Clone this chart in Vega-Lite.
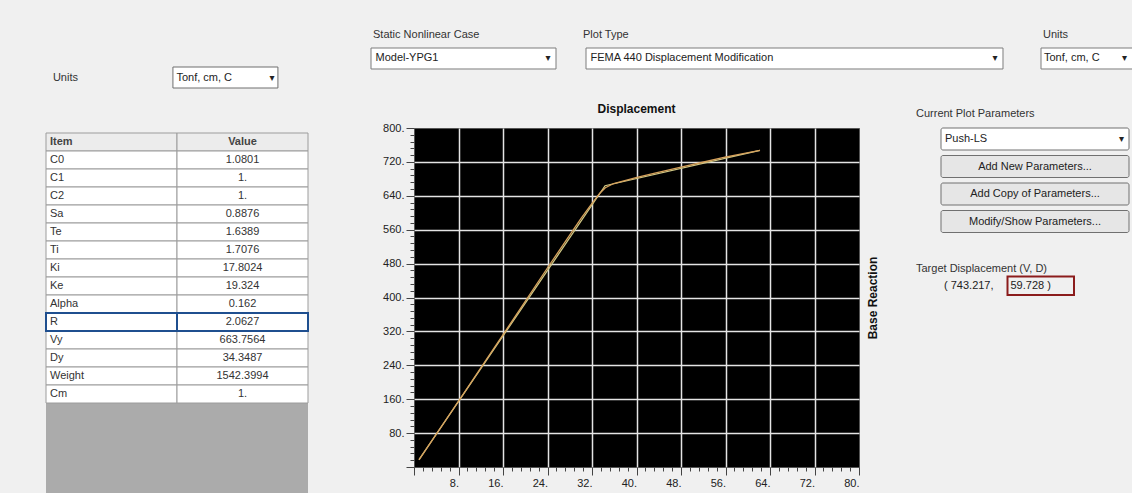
{
 "$schema": "https://vega.github.io/schema/vega-lite/v6.json",
 "background": "#f0f0f0",
 "autosize": {"type": "pad"},
 "padding": {"left": 45, "top": 28, "right": 0, "bottom": 0},
 "spacing": 13,
 "config": {
  "view": {"stroke": null},
  "font": "Liberation Sans",
  "text": {"fontSize": 11, "color": "#222222"},
  "title": {"fontSize": 11, "fontWeight": "normal", "color": "#333333", "anchor": "start", "frame": "group"}
 },
 "vconcat": [
  {
   "hconcat": [
    {
     "width": 295, "height": 40,
     "data": {"values": [{"w": "dd", "label": "Tonf, cm, C", "caption": "Units"}]},
     "encoding": {
      "y": {"field": "w", "type": "nominal", "axis": null, "scale": {"type": "band", "paddingInner": 0, "paddingOuter": 0.4524, "align": 1}},
      "x": {"field": "w", "type": "nominal", "axis": null, "scale": {"type": "band", "paddingInner": 0, "paddingOuter": 0.9048, "align": 0.668}}
     },
     "layer": [
      {"mark": {"type": "rect", "fill": "#ffffff", "stroke": "#6f6f6f"}},
      {"mark": {"type": "text", "align": "left", "dx": -49}, "encoding": {"text": {"field": "label"}}},
      {"mark": {"type": "text", "align": "right", "dx": 49, "font": "DejaVu Sans", "fontSize": 10, "text": "▾"}},
      {"mark": {"type": "text", "align": "center", "dx": -160, "color": "#333333"}, "encoding": {"text": {"field": "caption"}}}
     ]
    },
    {
     "width": 185, "height": 40,
     "title": {"text": "Static Nonlinear Case", "offset": 8, "dx": 2},
     "data": {"values": [{"w": "dd", "label": "Model-YPG1"}]},
     "encoding": {
      "y": {"field": "w", "type": "nominal", "axis": null, "scale": {"type": "band", "paddingInner": 0, "paddingOuter": 0.4524, "align": 0}}
     },
     "layer": [
      {"mark": {"type": "rect", "fill": "#ffffff", "stroke": "#7d7d7d"}},
      {"mark": {"type": "text", "align": "left", "dx": -88}, "encoding": {"text": {"field": "label"}}},
      {"mark": {"type": "text", "align": "right", "dx": 87, "font": "DejaVu Sans", "fontSize": 10, "text": "▾"}}
     ]
    },
    {
     "width": 425, "height": 40,
     "title": {"text": "Plot Type", "offset": 8, "dx": -3},
     "data": {"values": [{"w": "dd", "label": "FEMA 440 Displacement Modification"}]},
     "encoding": {
      "y": {"field": "w", "type": "nominal", "axis": null, "scale": {"type": "band", "paddingInner": 0, "paddingOuter": 0.4524, "align": 0}},
      "x": {"field": "w", "type": "nominal", "axis": null, "scale": {"type": "band", "paddingInner": 0, "paddingOuter": 0.0096, "align": 0}}
     },
     "layer": [
      {"mark": {"type": "rect", "fill": "#ffffff", "stroke": "#7d7d7d"}},
      {"mark": {"type": "text", "align": "left", "dx": -204}, "encoding": {"text": {"field": "label"}}},
      {"mark": {"type": "text", "align": "right", "dx": 203, "font": "DejaVu Sans", "fontSize": 10, "text": "▾"}}
     ]
    },
    {
     "width": 92, "height": 40,
     "title": {"text": "Units", "offset": 8, "dx": 2},
     "data": {"values": [{"w": "dd", "label": "Tonf, cm, C"}]},
     "encoding": {
      "y": {"field": "w", "type": "nominal", "axis": null, "scale": {"type": "band", "paddingInner": 0, "paddingOuter": 0.4524, "align": 0}}
     },
     "layer": [
      {"mark": {"type": "rect", "fill": "#ffffff", "stroke": "#7d7d7d"}},
      {"mark": {"type": "text", "align": "left", "dx": -43}, "encoding": {"text": {"field": "label"}}},
      {"mark": {"type": "text", "align": "right", "dx": 40, "font": "DejaVu Sans", "fontSize": 10, "text": "▾"}}
     ]
    }
   ],
   "spacing": 30, "bounds": "flush"
  },
  {
   "hconcat": [
    {
     "width": 286, "height": 365,
     "data": {"values": [
      {"Item": "Item", "Value": "Value"},
      {"Item": "C0", "Value": "1.0801"},
      {"Item": "C1", "Value": "1."},
      {"Item": "C2", "Value": "1."},
      {"Item": "Sa", "Value": "0.8876"},
      {"Item": "Te", "Value": "1.6389"},
      {"Item": "Ti", "Value": "1.7076"},
      {"Item": "Ki", "Value": "17.8024"},
      {"Item": "Ke", "Value": "19.324"},
      {"Item": "Alpha", "Value": "0.162"},
      {"Item": "R", "Value": "2.0627"},
      {"Item": "Vy", "Value": "663.7564"},
      {"Item": "Dy", "Value": "34.3487"},
      {"Item": "Weight", "Value": "1542.3994"},
      {"Item": "Cm", "Value": "1."}
     ]},
     "transform": [{"fold": ["Item", "Value"], "as": ["col", "txt"]}],
     "encoding": {
      "x": {"field": "col", "type": "nominal", "axis": null, "scale": {"type": "band", "domain": ["Item", "Value"], "paddingInner": 0, "paddingOuter": 0.0916, "align": 0}},
      "y": {"field": "Item", "type": "nominal", "axis": null, "scale": {"type": "band", "domain": ["Item", "C0", "C1", "C2", "Sa", "Te", "Ti", "Ki", "Ke", "Alpha", "R", "Vy", "Dy", "Weight", "Cm", "_1", "_2", "_3", "_4", "_5"], "paddingInner": 0, "paddingOuter": 0.139, "align": 1}}
     },
     "layer": [
      {
       "transform": [{"filter": "datum.Item === 'Item'"}],
       "mark": {"type": "rect", "fill": "#ababab", "stroke": null},
       "encoding": {
        "y": {"datum": "bg", "type": "nominal", "axis": null, "scale": {"type": "band", "domain": ["bg"], "paddingInner": 0, "paddingOuter": 0.00836, "align": 1}}
       }
      },
      {
       "mark": {"type": "rect", "stroke": "#9c9c9c", "strokeWidth": 1},
       "encoding": {
        "fill": {"condition": {"test": "datum.Item === 'Item'", "value": "#ececec"}, "value": "#ffffff"}
       }
      },
      {
       "transform": [{"filter": "datum.col === 'Item' && datum.Item !== 'Item'"}],
       "mark": {"type": "text", "align": "left", "dx": 4, "fontSize": 11, "color": "#333333"},
       "encoding": {
        "x": {"field": "col", "type": "nominal", "bandPosition": 0, "axis": null, "scale": {"type": "band", "domain": ["Item", "Value"], "paddingInner": 0, "paddingOuter": 0.0916, "align": 0}},
        "text": {"field": "txt"}
       }
      },
      {
       "transform": [{"filter": "datum.col === 'Item' && datum.Item === 'Item'"}],
       "mark": {"type": "text", "align": "left", "dx": 4, "fontSize": 11, "fontWeight": "bold", "color": "#444444"},
       "encoding": {
        "x": {"field": "col", "type": "nominal", "bandPosition": 0, "axis": null, "scale": {"type": "band", "domain": ["Item", "Value"], "paddingInner": 0, "paddingOuter": 0.0916, "align": 0}},
        "text": {"field": "txt"}
       }
      },
      {
       "transform": [{"filter": "datum.col === 'Value' && datum.Item !== 'Item'"}],
       "mark": {"type": "text", "align": "center", "fontSize": 11, "color": "#333333"},
       "encoding": {
        "text": {"field": "txt"}
       }
      },
      {
       "transform": [{"filter": "datum.col === 'Value' && datum.Item === 'Item'"}],
       "mark": {"type": "text", "align": "center", "fontSize": 11, "fontWeight": "bold", "color": "#444444"},
       "encoding": {
        "text": {"field": "txt"}
       }
      },
      {
       "transform": [{"filter": "datum.Item === 'R'"}],
       "mark": {"type": "rect", "fill": null, "fillOpacity": 0, "stroke": "#1f4f8f", "strokeWidth": 2}
      }
     ],
     "resolve": {"scale": {"y": "independent"}}
    },
    {
     "width": 445, "height": 339,
     "title": {"text": "Displacement", "anchor": "middle", "fontWeight": "bold", "fontSize": 12, "color": "#111111", "offset": 6},
     "view": {"fill": "#000000", "stroke": "#555555"},
     "data": {"values": [
      {"series": "Capacity", "disp": 0.9, "base": 17},
      {"series": "Capacity", "disp": 8.1, "base": 157},
      {"series": "Capacity", "disp": 16.1, "base": 314},
      {"series": "Capacity", "disp": 24.1, "base": 472},
      {"series": "Capacity", "disp": 30.0, "base": 586},
      {"series": "Capacity", "disp": 32.1, "base": 624},
      {"series": "Capacity", "disp": 33.4, "base": 646},
      {"series": "Capacity", "disp": 34.4, "base": 659},
      {"series": "Capacity", "disp": 35.9, "base": 669},
      {"series": "Capacity", "disp": 39.9, "base": 683},
      {"series": "Capacity", "disp": 43.5, "base": 694},
      {"series": "Capacity", "disp": 47.8, "base": 707},
      {"series": "Capacity", "disp": 51.5, "base": 718},
      {"series": "Capacity", "disp": 55.9, "base": 731},
      {"series": "Capacity", "disp": 59.4, "base": 740},
      {"series": "Capacity", "disp": 62.2, "base": 747},
      {"series": "Bilinear", "disp": 0.9, "base": 17.4},
      {"series": "Bilinear", "disp": 34.35, "base": 663.76},
      {"series": "Bilinear", "disp": 62.2, "base": 747}
     ]},
     "layer": [
      {
       "transform": [{"filter": "datum.series === 'Bilinear'"}],
       "mark": {"type": "line", "color": "#cfc784", "strokeWidth": 1.3, "clip": true},
       "encoding": {
        "x": {"field": "disp", "type": "quantitative", "scale": {"domain": [0, 80], "nice": false, "zero": false},
         "axis": {
          "values": [0, 1.6, 3.2, 4.8, 6.4, 8, 9.6, 11.2, 12.8, 14.4, 16, 17.6, 19.2, 20.8, 22.4, 24, 25.6, 27.2, 28.8, 30.4, 32, 33.6, 35.2, 36.8, 38.4, 40, 41.6, 43.2, 44.8, 46.4, 48, 49.6, 51.2, 52.8, 54.4, 56, 57.6, 59.2, 60.8, 62.4, 64, 65.6, 67.2, 68.8, 70.4, 72, 73.6, 75.2, 76.8, 78.4, 80],
          "tickCount": 500,
          "title": null,
          "domain": false,
          "grid": true,
          "gridColor": "#e4e4e4",
          "gridWidth": 1.5,
          "gridOpacity": {"condition": {"test": "datum.value % 8 === 0 && datum.value > 0 && datum.value < 80", "value": 1}, "value": 0},
          "tickColor": "#444444",
          "tickSize": {"condition": {"test": "datum.value % 8 === 0", "value": 8}, "value": 4},
          "labelExpr": "datum.value % 8 === 0 && datum.value > 0 ? datum.value + '.' : ''",
          "labelFontSize": 11,
          "labelColor": "#222222",
          "labelAlign": "right",
          "labelDx": -1,
          "labelPadding": 2,
          "labelFlush": false,
          "labelOverlap": false,
          "labelBound": false
         }
        },
        "y": {"field": "base", "type": "quantitative", "scale": {"domain": [0, 800], "nice": false, "zero": false},
         "axis": {
          "values": [0, 16, 32, 48, 64, 80, 96, 112, 128, 144, 160, 176, 192, 208, 224, 240, 256, 272, 288, 304, 320, 336, 352, 368, 384, 400, 416, 432, 448, 464, 480, 496, 512, 528, 544, 560, 576, 592, 608, 624, 640, 656, 672, 688, 704, 720, 736, 752, 768, 784, 800],
          "tickCount": 500,
          "title": null,
          "orient": "left",
          "domain": false,
          "grid": true,
          "gridColor": "#e4e4e4",
          "gridWidth": 1.5,
          "gridOpacity": {"condition": {"test": "datum.value % 80 === 0 && datum.value > 0 && datum.value < 800", "value": 1}, "value": 0},
          "tickColor": "#444444",
          "tickSize": {"condition": {"test": "datum.value % 80 === 0", "value": 8}, "value": 4},
          "labelExpr": "datum.value % 80 === 0 && datum.value > 0 ? datum.value + '.' : ''",
          "labelFontSize": 11,
          "labelColor": "#222222",
          "labelPadding": 2,
          "labelOverlap": false,
          "labelBound": false
         }
        }
       }
      },
      {
       "transform": [{"filter": "datum.series === 'Capacity'"}],
       "mark": {"type": "line", "color": "#d6a15c", "strokeWidth": 1.3, "clip": true},
       "encoding": {
        "x": {"field": "disp", "type": "quantitative"},
        "y": {"field": "base", "type": "quantitative",
         "axis": {"orient": "right", "title": "Base Reaction", "labels": false, "ticks": false, "domain": false, "grid": false, "titleAngle": -90, "titleFontSize": 12, "titleFontWeight": "bold", "titleColor": "#111111", "titlePadding": 20}
        }
       }
      }
     ],
     "resolve": {"axis": {"y": "independent"}}
    },
    {
     "width": 188, "height": 167,
     "title": {"text": "Current Plot Parameters", "offset": 9, "dx": -25},
     "layer": [
      {
       "data": {"values": [
        {"row": "dd", "kind": "dd", "label": "Push-LS"},
        {"row": "b1", "kind": "btn", "label": "Add New Parameters..."},
        {"row": "b2", "kind": "btn", "label": "Add Copy of Parameters..."},
        {"row": "b3", "kind": "btn", "label": "Modify/Show Parameters..."}
       ]},
       "encoding": {
        "y": {"field": "row", "type": "nominal", "axis": null, "scale": {"type": "band", "domain": ["dd", "b1", "b2", "b3", "_a", "_b"], "paddingInner": 0.2, "paddingOuter": 0.136, "align": 0}}
       },
       "layer": [
        {
         "mark": {"type": "rect", "stroke": "#707070", "cornerRadius": 2},
         "encoding": {"fill": {"condition": {"test": "datum.kind === 'dd'", "value": "#ffffff"}, "value": "#e6e6e6"}}
        },
        {
         "transform": [{"filter": "datum.kind === 'btn'"}],
         "mark": {"type": "text", "align": "center"},
         "encoding": {"text": {"field": "label"}}
        },
        {
         "transform": [{"filter": "datum.kind === 'dd'"}],
         "mark": {"type": "text", "align": "left", "dx": -90},
         "encoding": {"text": {"field": "label"}}
        },
        {
         "transform": [{"filter": "datum.kind === 'dd'"}],
         "mark": {"type": "text", "align": "right", "dx": 89, "font": "DejaVu Sans", "fontSize": 10, "text": "▾"}
        }
       ]
      },
      {
       "data": {"values": [
        {"part": "V", "label": "( 743.217,"},
        {"part": "D", "label": "59.728 )"}
       ]},
       "encoding": {
        "x": {"field": "part", "type": "nominal", "axis": null, "scale": {"type": "band", "domain": ["V", "D"], "paddingInner": 0, "paddingOuter": 0.4135, "align": 0}},
        "y": {"datum": "tg", "type": "nominal", "axis": null, "scale": {"type": "band", "domain": ["_1", "_2", "_3", "_4", "_5", "_6", "_7", "_8", "tg"], "paddingInner": 0, "paddingOuter": 0, "align": 0.4}}
       },
       "layer": [
        {
         "transform": [{"filter": "datum.part === 'D'"}],
         "mark": {"type": "rect", "fill": null, "fillOpacity": 0, "stroke": "#8b1c1c", "strokeWidth": 2}
        },
        {
         "mark": {"type": "text", "align": "left", "dx": 3},
         "encoding": {"x": {"field": "part", "type": "nominal", "bandPosition": 0}, "text": {"field": "label"}}
        },
        {
         "transform": [{"filter": "datum.part === 'V'"}],
         "mark": {"type": "text", "align": "left", "dx": -25, "dy": -17, "color": "#333333", "text": "Target Displacement (V, D)"},
         "encoding": {"x": {"field": "part", "type": "nominal", "bandPosition": 0}}
        }
       ]
      }
     ],
     "resolve": {"scale": {"y": "independent", "x": "independent"}}
    }
   ],
   "spacing": 82, "bounds": "flush"
  }
 ]
}
